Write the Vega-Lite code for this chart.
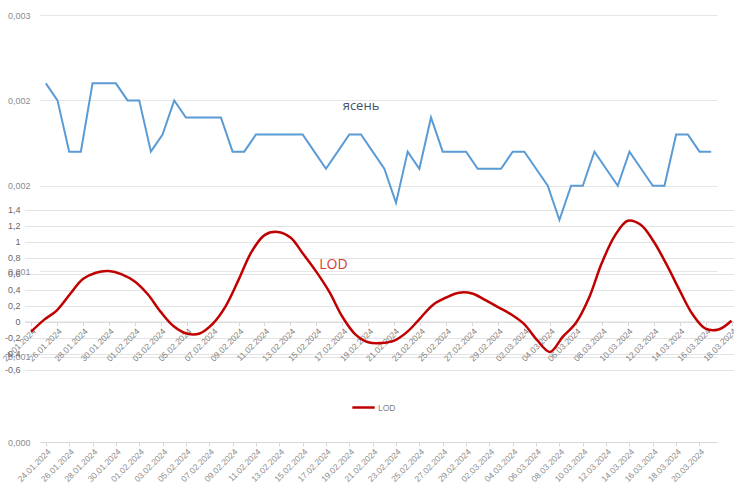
{
  "$schema": "https://vega.github.io/schema/vega-lite/v6.json",
  "width": 677,
  "height": 427,
  "autosize": {"type": "none"},
  "padding": {"left": 40, "top": 15, "right": 17, "bottom": 43},
  "background": "white",
  "config": {
    "view": {"stroke": null},
    "font": "Liberation Sans",
    "axis": {"labelFont": "Liberation Sans", "title": null}
  },
  "layer": [
    {
      "data": {"values": [
        {"date": "2024-01-24", "value": 0.00252},
        {"date": "2024-01-25", "value": 0.0024},
        {"date": "2024-01-26", "value": 0.00204},
        {"date": "2024-01-27", "value": 0.00204},
        {"date": "2024-01-28", "value": 0.00252},
        {"date": "2024-01-29", "value": 0.00252},
        {"date": "2024-01-30", "value": 0.00252},
        {"date": "2024-01-31", "value": 0.0024},
        {"date": "2024-02-01", "value": 0.0024},
        {"date": "2024-02-02", "value": 0.00204},
        {"date": "2024-02-03", "value": 0.00216},
        {"date": "2024-02-04", "value": 0.0024},
        {"date": "2024-02-05", "value": 0.00228},
        {"date": "2024-02-06", "value": 0.00228},
        {"date": "2024-02-07", "value": 0.00228},
        {"date": "2024-02-08", "value": 0.00228},
        {"date": "2024-02-09", "value": 0.00204},
        {"date": "2024-02-10", "value": 0.00204},
        {"date": "2024-02-11", "value": 0.00216},
        {"date": "2024-02-12", "value": 0.00216},
        {"date": "2024-02-13", "value": 0.00216},
        {"date": "2024-02-14", "value": 0.00216},
        {"date": "2024-02-15", "value": 0.00216},
        {"date": "2024-02-16", "value": 0.00204},
        {"date": "2024-02-17", "value": 0.00192},
        {"date": "2024-02-18", "value": 0.00204},
        {"date": "2024-02-19", "value": 0.00216},
        {"date": "2024-02-20", "value": 0.00216},
        {"date": "2024-02-21", "value": 0.00204},
        {"date": "2024-02-22", "value": 0.00192},
        {"date": "2024-02-23", "value": 0.00168},
        {"date": "2024-02-24", "value": 0.00204},
        {"date": "2024-02-25", "value": 0.00192},
        {"date": "2024-02-26", "value": 0.00228},
        {"date": "2024-02-27", "value": 0.00204},
        {"date": "2024-02-28", "value": 0.00204},
        {"date": "2024-02-29", "value": 0.00204},
        {"date": "2024-03-01", "value": 0.00192},
        {"date": "2024-03-02", "value": 0.00192},
        {"date": "2024-03-03", "value": 0.00192},
        {"date": "2024-03-04", "value": 0.00204},
        {"date": "2024-03-05", "value": 0.00204},
        {"date": "2024-03-06", "value": 0.00192},
        {"date": "2024-03-07", "value": 0.0018},
        {"date": "2024-03-08", "value": 0.00156},
        {"date": "2024-03-09", "value": 0.0018},
        {"date": "2024-03-10", "value": 0.0018},
        {"date": "2024-03-11", "value": 0.00204},
        {"date": "2024-03-12", "value": 0.00192},
        {"date": "2024-03-13", "value": 0.0018},
        {"date": "2024-03-14", "value": 0.00204},
        {"date": "2024-03-15", "value": 0.00192},
        {"date": "2024-03-16", "value": 0.0018},
        {"date": "2024-03-17", "value": 0.0018},
        {"date": "2024-03-18", "value": 0.00216},
        {"date": "2024-03-19", "value": 0.00216},
        {"date": "2024-03-20", "value": 0.00204},
        {"date": "2024-03-21", "value": 0.00204}
      ]},
      "layer": [
        {
          "mark": {"type": "line", "color": "#5b9bd5", "strokeWidth": 2},
          "encoding": {
            "x": {
              "field": "date", "type": "temporal",
              "scale": {"type": "utc", "nice": false, "domain": [
                {"year": 2024, "month": 1, "date": 23, "hours": 12, "utc": true},
                {"year": 2024, "month": 3, "date": 21, "hours": 12, "utc": true}
              ]},
              "axis": {
                "orient": "bottom", "grid": false, "tickCount": 100,
                "values": [1706054400000, 1706227200000, 1706400000000, 1706572800000, 1706745600000, 1706918400000, 1707091200000, 1707264000000, 1707436800000, 1707609600000, 1707782400000, 1707955200000, 1708128000000, 1708300800000, 1708473600000, 1708646400000, 1708819200000, 1708992000000, 1709164800000, 1709337600000, 1709510400000, 1709683200000, 1709856000000, 1710028800000, 1710201600000, 1710374400000, 1710547200000, 1710720000000, 1710892800000],
                "labelExpr": "utcFormat(datum.value, '%d.%m.%Y')",
                "labelAngle": -45, "labelAlign": "right", "labelBaseline": "top",
                "labelFontSize": 8.5, "labelColor": "#8c8c8c", "labelPadding": 1,
                "tickSize": 4, "tickColor": "#d9d9d9", "domainColor": "#d9d9d9",
                "labelOverlap": false
              }
            },
            "y": {
              "field": "value", "type": "quantitative",
              "scale": {"domain": [0, 0.003], "nice": false},
              "axis": {
                "orient": "left",
                "values": [0, 0.0006, 0.0012, 0.0018, 0.0024, 0.003],
                "labelExpr": "replace(format(datum.value, '.3f'), '.', ',')",
                "grid": true, "gridColor": "#e6e6e6", "domain": false, "ticks": false,
                "labelPadding": 10, "labelFontSize": 9, "labelColor": "#8c8c8c",
                "labelOverlap": false
              }
            }
          }
        },
        {
          "data": {"values": [{"label": "ясень"}]},
          "mark": {"type": "text", "fontSize": 13, "color": "#44546a", "font": "Open Sans", "baseline": "middle"},
          "encoding": {
            "x": {"datum": {"year": 2024, "month": 2, "date": 20, "utc": true}, "type": "temporal"},
            "y": {"datum": 0.00236, "type": "quantitative"},
            "text": {"field": "label"}
          }
        }
      ]
    },
    {
      "data": {"values": [
        {"date": "2024-01-24", "lod": -0.13},
        {"date": "2024-01-25", "lod": 0.02},
        {"date": "2024-01-26", "lod": 0.14},
        {"date": "2024-01-27", "lod": 0.34},
        {"date": "2024-01-28", "lod": 0.53},
        {"date": "2024-01-29", "lod": 0.61},
        {"date": "2024-01-30", "lod": 0.63},
        {"date": "2024-01-31", "lod": 0.59},
        {"date": "2024-02-01", "lod": 0.50},
        {"date": "2024-02-02", "lod": 0.34},
        {"date": "2024-02-03", "lod": 0.12},
        {"date": "2024-02-04", "lod": -0.06},
        {"date": "2024-02-05", "lod": -0.15},
        {"date": "2024-02-06", "lod": -0.15},
        {"date": "2024-02-07", "lod": -0.03},
        {"date": "2024-02-08", "lod": 0.19},
        {"date": "2024-02-09", "lod": 0.52},
        {"date": "2024-02-10", "lod": 0.87},
        {"date": "2024-02-11", "lod": 1.08},
        {"date": "2024-02-12", "lod": 1.12},
        {"date": "2024-02-13", "lod": 1.05},
        {"date": "2024-02-14", "lod": 0.84},
        {"date": "2024-02-15", "lod": 0.62},
        {"date": "2024-02-16", "lod": 0.37},
        {"date": "2024-02-17", "lod": 0.06},
        {"date": "2024-02-18", "lod": -0.16},
        {"date": "2024-02-19", "lod": -0.26},
        {"date": "2024-02-20", "lod": -0.27},
        {"date": "2024-02-21", "lod": -0.24},
        {"date": "2024-02-22", "lod": -0.13},
        {"date": "2024-02-23", "lod": 0.04},
        {"date": "2024-02-24", "lod": 0.21},
        {"date": "2024-02-25", "lod": 0.30},
        {"date": "2024-02-26", "lod": 0.36},
        {"date": "2024-02-27", "lod": 0.35},
        {"date": "2024-02-28", "lod": 0.27},
        {"date": "2024-02-29", "lod": 0.18},
        {"date": "2024-03-01", "lod": 0.09},
        {"date": "2024-03-02", "lod": -0.03},
        {"date": "2024-03-03", "lod": -0.23},
        {"date": "2024-03-04", "lod": -0.38},
        {"date": "2024-03-05", "lod": -0.19},
        {"date": "2024-03-06", "lod": -0.02},
        {"date": "2024-03-07", "lod": 0.29},
        {"date": "2024-03-08", "lod": 0.73},
        {"date": "2024-03-09", "lod": 1.07},
        {"date": "2024-03-10", "lod": 1.26},
        {"date": "2024-03-11", "lod": 1.21},
        {"date": "2024-03-12", "lod": 1.00},
        {"date": "2024-03-13", "lod": 0.71},
        {"date": "2024-03-14", "lod": 0.39},
        {"date": "2024-03-15", "lod": 0.09},
        {"date": "2024-03-16", "lod": -0.09},
        {"date": "2024-03-17", "lod": -0.10},
        {"date": "2024-03-18", "lod": 0.01}
      ]},
      "layer": [
        {
          "mark": {"type": "line", "strokeWidth": 2.5, "interpolate": "catmull-rom"},
          "encoding": {
            "x": {
              "field": "date", "type": "temporal",
              "scale": {"type": "utc", "nice": false, "range": [-15.5, 698], "domain": [
                {"year": 2024, "month": 1, "date": 23, "hours": 12, "utc": true},
                {"year": 2024, "month": 3, "date": 18, "hours": 12, "utc": true}
              ]},
              "axis": {
                "orient": "bottom", "offset": -120.5, "grid": false, "tickCount": 100,
                "values": [1706054400000, 1706227200000, 1706400000000, 1706572800000, 1706745600000, 1706918400000, 1707091200000, 1707264000000, 1707436800000, 1707609600000, 1707782400000, 1707955200000, 1708128000000, 1708300800000, 1708473600000, 1708646400000, 1708819200000, 1708992000000, 1709164800000, 1709337600000, 1709510400000, 1709683200000, 1709856000000, 1710028800000, 1710201600000, 1710374400000, 1710547200000, 1710720000000],
                "labelExpr": "utcFormat(datum.value, '%d.%m.%Y')",
                "labelAngle": -45, "labelAlign": "right", "labelBaseline": "top",
                "labelFontSize": 8.5, "labelColor": "#7f7f7f", "labelPadding": 1,
                "tickSize": 4, "tickColor": "#d9d9d9", "domainColor": "#d9d9d9",
                "labelOverlap": false
              }
            },
            "y": {
              "field": "lod", "type": "quantitative",
              "scale": {"domain": [-0.6, 1.4], "nice": false, "zero": false, "range": [354.5, 194.5]},
              "axis": {
                "orient": "left",
                "values": [-0.6, -0.4, -0.2, 0, 0.2, 0.4, 0.6, 0.8, 1, 1.2, 1.4],
                "labelExpr": "replace(replace(format(datum.value, '.1~f'), '.', ','), '−', '-')",
                "grid": true, "gridColor": "#e3e3e3", "domain": false, "ticks": false,
                "labelPadding": 20, "labelFontSize": 9, "labelColor": "#666666",
                "labelOverlap": false
              }
            },
            "color": {
              "datum": "LOD", "type": "nominal",
              "scale": {"range": ["#c00000"]},
              "legend": {
                "orient": "none", "legendX": 311, "legendY": 380, "title": null,
                "symbolType": "stroke", "symbolStrokeWidth": 2.5, "symbolSize": 500,
                "labelFontSize": 8.5, "labelColor": "#7f7f7f", "padding": 0, "labelOffset": 2
              }
            }
          }
        },
        {
          "data": {"values": [{"label": "LOD"}]},
          "mark": {"type": "text", "fontSize": 14, "color": "#d63a3a", "font": "Open Sans", "baseline": "middle", "dx": 4},
          "encoding": {
            "x": {"datum": {"year": 2024, "month": 2, "date": 16, "utc": true}, "type": "temporal"},
            "y": {"datum": 0.71, "type": "quantitative"},
            "text": {"field": "label"}
          }
        }
      ]
    }
  ],
  "resolve": {
    "scale": {"x": "independent", "y": "independent", "color": "independent"},
    "axis": {"x": "independent", "y": "independent"}
  }
}
